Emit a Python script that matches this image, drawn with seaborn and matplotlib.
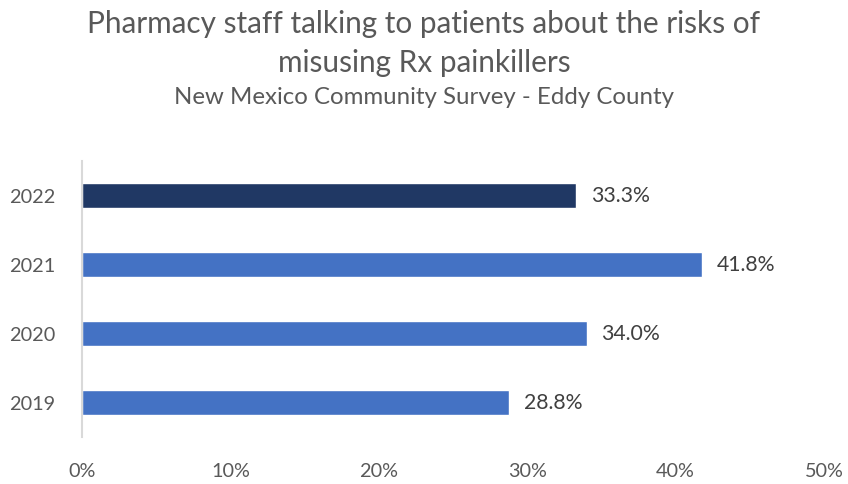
import matplotlib
matplotlib.use("Agg")
import matplotlib.pyplot as plt
import seaborn as sns
import pandas as pd
from matplotlib.ticker import FuncFormatter

years = ["2022", "2021", "2020", "2019"]
values = [33.3, 41.8, 34.0, 28.8]
bar_colors = ["#203864", "#4472C4", "#4472C4", "#4472C4"]
x_ticks = [0, 10, 20, 30, 40, 50]

title_line1 = "Pharmacy staff talking to patients about the risks of"
title_line2 = "misusing Rx painkillers"
subtitle = "New Mexico Community Survey - Eddy County"

sns.set_theme(style="white")
plt.rcParams["font.family"] = ["Lato", "DejaVu Sans"]
text_color = "#595959"

df = pd.DataFrame({"year": years, "value": values})

fig = plt.figure(figsize=(8.48, 4.85), dpi=100)
ax = fig.add_axes([0.0967, 0.097, 0.875, 0.569])

sns.barplot(data=df, x="value", y="year", hue="year", palette=bar_colors,
            order=years, hue_order=years, legend=False, width=0.36,
            orient="h", ax=ax, saturation=1)

for i, v in enumerate(values):
    ax.text(v + 1.0, i, f"{v:.1f}%", va="center", ha="left",
            fontsize=15.3, color="#404040")

ax.set_xlim(0, 50)
ax.set_ylim(3.5, -0.5)
ax.set_xticks(x_ticks)
ax.xaxis.set_major_formatter(FuncFormatter(lambda x, _: f"{x:.0f}%"))
ax.set_xlabel("")
ax.set_ylabel("")
ax.tick_params(axis="both", length=0, labelsize=14.3, colors=text_color)
ax.tick_params(axis="x", pad=18)
ax.tick_params(axis="y", pad=19)

for side in ["top", "right", "bottom"]:
    ax.spines[side].set_visible(False)
ax.spines["left"].set_color("#D9D9D9")
ax.spines["left"].set_linewidth(1.5)

fig.text(0.5, 1 - 24 / 485, title_line1, ha="center", va="center",
         fontsize=21.4, color=text_color)
fig.text(0.5, 1 - 63 / 485, title_line2, ha="center", va="center",
         fontsize=21.4, color=text_color)
fig.text(0.5, 1 - 98 / 485, subtitle, ha="center", va="center",
         fontsize=17.3, color=text_color)

fig.savefig("out.png", dpi=100)
